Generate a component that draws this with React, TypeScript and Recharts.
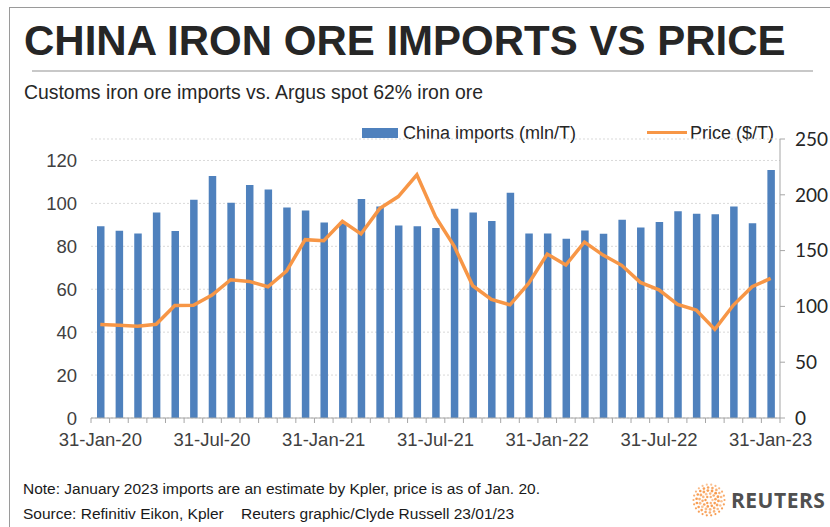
import React from "react";
import { Bar, CartesianGrid, ComposedChart, Line, XAxis, YAxis } from "recharts";

const months = [
  "31-Jan-20", "29-Feb-20", "31-Mar-20", "30-Apr-20", "31-May-20", "30-Jun-20",
  "31-Jul-20", "31-Aug-20", "30-Sep-20", "31-Oct-20", "30-Nov-20", "31-Dec-20",
  "31-Jan-21", "28-Feb-21", "31-Mar-21", "30-Apr-21", "31-May-21", "30-Jun-21",
  "31-Jul-21", "31-Aug-21", "30-Sep-21", "31-Oct-21", "30-Nov-21", "31-Dec-21",
  "31-Jan-22", "28-Feb-22", "31-Mar-22", "30-Apr-22", "31-May-22", "30-Jun-22",
  "31-Jul-22", "31-Aug-22", "30-Sep-22", "31-Oct-22", "30-Nov-22", "31-Dec-22",
  "31-Jan-23",
];

// mln tonnes
const imports = [
  89.4, 87.2, 86.0, 95.7, 87.1, 101.7, 112.8, 100.3, 108.6, 106.5, 98.1, 96.7,
  91.1, 90.8, 102.0, 98.5, 89.7, 89.3, 88.5, 97.5, 95.7, 91.8, 105.0, 86.0,
  86.0, 83.5, 87.4, 85.8, 92.4, 88.8, 91.3, 96.3, 95.2, 94.9, 98.6, 90.8, 115.6,
];

// $/T
const price = [
  83.8, 83.2, 82.3, 84.0, 100.9, 101.0, 110.1, 123.9, 122.4, 117.6, 131.7, 159.8,
  158.9, 176.3, 164.9, 187.6, 198.4, 217.9, 180.4, 154.1, 118.5, 106.3, 101.4, 120.6,
  146.9, 137.1, 157.7, 146.0, 136.8, 121.5, 114.9, 101.8, 96.7, 79.4, 101.2, 117.6, 125.1,
];

const leftTicks = [0, 20, 40, 60, 80, 100, 120];
const rightTicks = [0, 50, 100, 150, 200, 250];
const LABEL_EVERY = 6;

const data = months.map((m, i) => ({ month: m, imports: imports[i], price: price[i] }));

const FONT = "'Liberation Sans', Arial, sans-serif";
const BLUE = "#4f81bd";
const ORANGE = "#f79646";
const AXIS = "#a6a6a6";
const HALF_BAND = 689 / months.length / 2;

function MonthTick(props: any) {
  const { x, y, payload, index } = props;
  const i = index ?? payload.index;
  const last = i === months.length - 1;
  return (
    <g>
      <line x1={x - HALF_BAND} x2={x - HALF_BAND} y1={y} y2={y + 5} stroke={AXIS} />
      {last && <line x1={x + HALF_BAND} x2={x + HALF_BAND} y1={y} y2={y + 5} stroke={AXIS} />}
      {i % LABEL_EVERY === 0 && (
        <text x={x} y={y + 28} textAnchor="middle" fontSize={18.5} fill="#404040" fontFamily={FONT}>
          {payload.value}
        </text>
      )}
    </g>
  );
}

function ReutersLogo() {
  const rings = [
    { r: 3.5, n: 6, s: 1.2 },
    { r: 6.5, n: 10, s: 1.3 },
    { r: 9.5, n: 14, s: 1.4 },
    { r: 12.5, n: 18, s: 1.3 },
    { r: 15.5, n: 22, s: 1.1 },
  ];
  return (
    <svg width={40} height={40} style={{ position: "absolute", left: 689, top: 480 }}>
      {rings.map((ring, k) =>
        Array.from({ length: ring.n }, (_, j) => {
          const a = (j / ring.n) * Math.PI * 2 + k * 0.5;
          return (
            <circle
              key={`${k}-${j}`}
              cx={20 + ring.r * Math.cos(a)}
              cy={20 + ring.r * Math.sin(a)}
              r={ring.s}
              fill={ORANGE}
              opacity={0.55 + 0.4 * Math.abs(Math.sin(a * 0.5 + k))}
            />
          );
        })
      )}
    </svg>
  );
}

export default function App() {
  return (
    <div
      style={{
        position: "absolute",
        left: 0,
        top: 0,
        width: 830,
        height: 527,
        background: "#fff",
        overflow: "hidden",
        fontFamily: FONT,
      }}
    >
      <div style={{ position: "absolute", left: 9, top: 7, width: 821, height: 600, borderLeft: "1px solid #9a9a9a", borderTop: "1px solid #9a9a9a" }} />
      <div style={{ position: "absolute", left: 24, top: 16, fontSize: 42, fontWeight: 700, color: "#262626", whiteSpace: "nowrap", lineHeight: "50px" }}>
        CHINA IRON ORE IMPORTS VS PRICE
      </div>
      <div style={{ position: "absolute", left: 32, top: 70, width: 781, height: 2, background: "#c8c8c8" }} />
      <div style={{ position: "absolute", left: 24, top: 81, fontSize: 19.4, color: "#262626", whiteSpace: "nowrap", lineHeight: "22px" }}>
        Customs iron ore imports vs. Argus spot 62% iron ore
      </div>

      <div style={{ position: "absolute", left: 362, top: 128, width: 36, height: 10, background: BLUE }} />
      <div style={{ position: "absolute", left: 403, top: 122, fontSize: 18, color: "#262626", whiteSpace: "nowrap", lineHeight: "22px" }}>
        China imports (mln/T)
      </div>
      <div style={{ position: "absolute", left: 647, top: 131, width: 40, height: 3, background: ORANGE }} />
      <div style={{ position: "absolute", left: 690, top: 122, fontSize: 18, color: "#262626", whiteSpace: "nowrap", lineHeight: "22px" }}>
        Price ($/T)
      </div>

      <div style={{ position: "absolute", left: 0, top: 0 }}>
        <ComposedChart
          width={830}
          height={460}
          data={data}
          margin={{ top: 139, right: 0, left: 0, bottom: 0 }}
        >
          <CartesianGrid horizontal vertical={false} stroke="#d9d9d9" strokeDasharray="2 2" />
          <XAxis
            dataKey="month"
            interval={0}
            tickLine={false}
            tickSize={0}
            tickMargin={0}
            axisLine={{ stroke: AXIS }}
            height={42}
            tick={<MonthTick />}
          />
          <YAxis
            domain={[0, 130]}
            ticks={leftTicks}
            width={91}
            axisLine={false}
            tickLine={false}
            tickMargin={8}
            tick={{ fontSize: 18.5, fill: "#404040", fontFamily: FONT }}
          />
          <YAxis
            yAxisId="right"
            orientation="right"
            domain={[0, 250]}
            ticks={rightTicks}
            width={50}
            axisLine={{ stroke: AXIS }}
            tickLine={{ stroke: AXIS }}
            tickSize={5}
            tickMargin={10}
            tick={{ fontSize: 19, fill: "#262626", fontFamily: "Lato, sans-serif", textAnchor: "start" }}
          />
          <Bar dataKey="imports" fill={BLUE} barSize={7.5} isAnimationActive={false} />
          <Line
            yAxisId="right"
            type="linear"
            dataKey="price"
            stroke={ORANGE}
            strokeWidth={3.5}
            dot={false}
            isAnimationActive={false}
          />
        </ComposedChart>
      </div>

      <div style={{ position: "absolute", left: 23, top: 480, fontSize: 15.5, color: "#1a1a1a", whiteSpace: "nowrap", lineHeight: "18px" }}>
        Note: January 2023 imports are an estimate by Kpler, price is as of Jan. 20.
      </div>
      <div style={{ position: "absolute", left: 23, top: 505, fontSize: 15.5, color: "#1a1a1a", whiteSpace: "pre", lineHeight: "18px" }}>
        {"Source: Refinitiv Eikon, Kpler    Reuters graphic/Clyde Russell 23/01/23"}
      </div>
      <ReutersLogo />
      <div style={{ position: "absolute", left: 731, top: 488, fontSize: 21, fontWeight: 700, color: "#505050", whiteSpace: "nowrap", lineHeight: "24px", fontFamily: "'Open Sans', sans-serif", letterSpacing: 0.5 }}>
        REUTERS
      </div>
    </div>
  );
}
